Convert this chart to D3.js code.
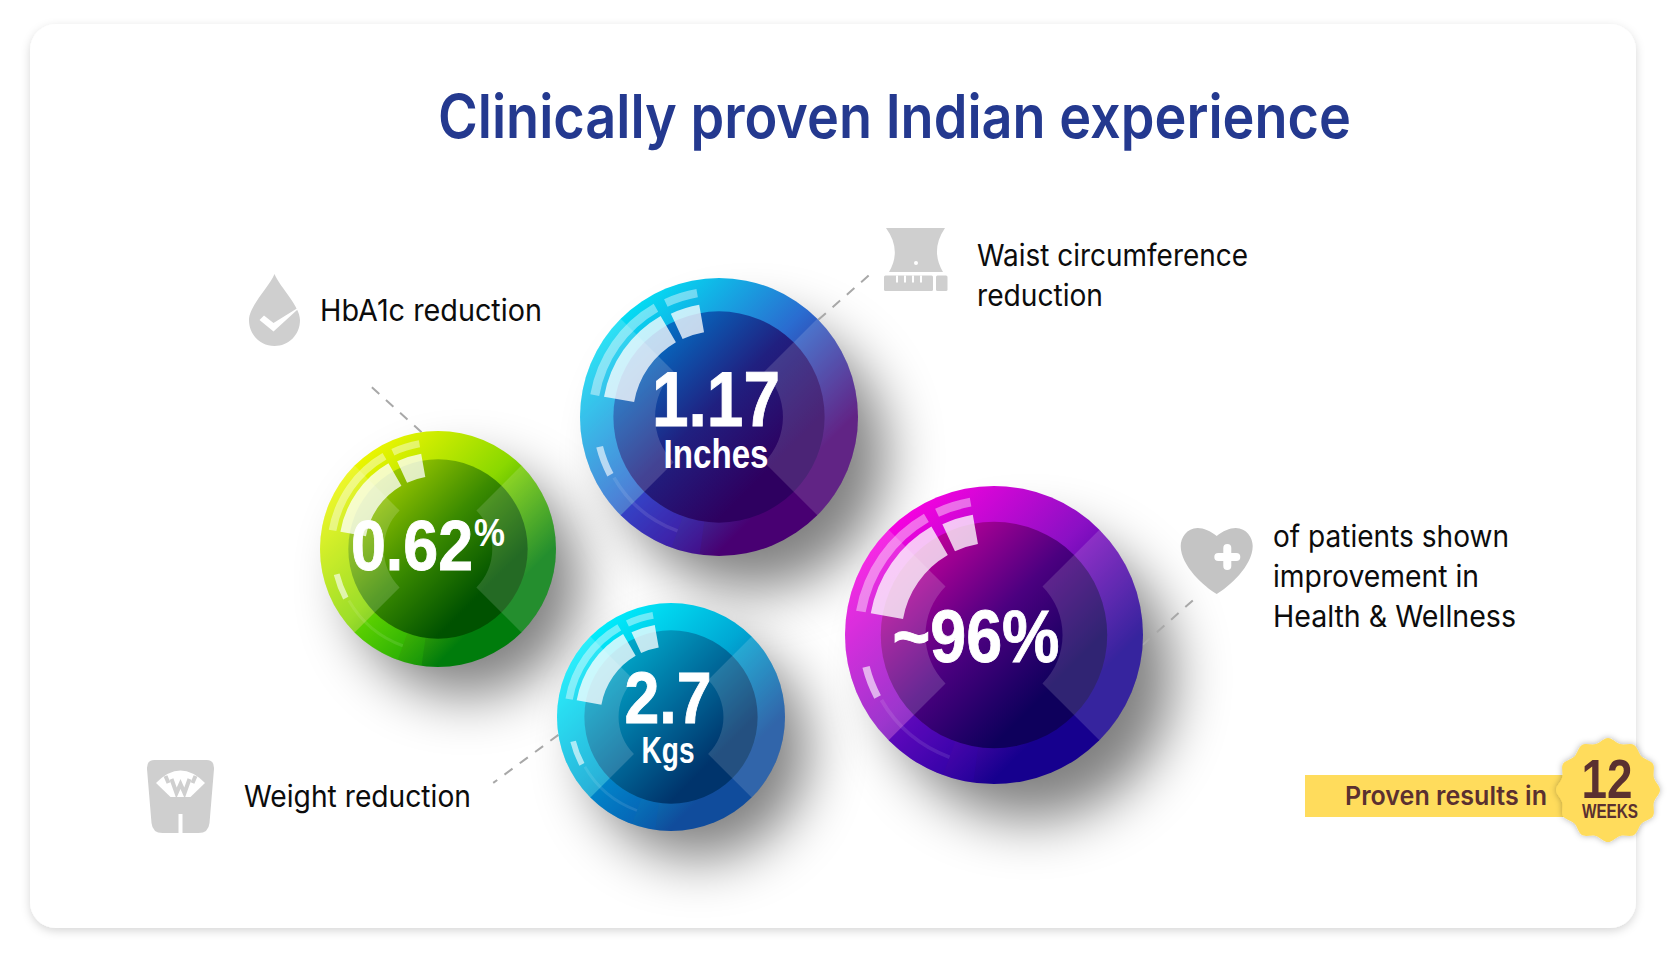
<!DOCTYPE html>
<html>
<head>
<meta charset="utf-8">
<script src="https://cdn.jsdelivr.net/npm/d3@7"></script>
<style>
  body { margin: 0; background: #fff; }
  text { font-family: Inter, "Noto Sans", sans-serif; }
  .num { font-family: "Liberation Sans Narrow", "Liberation Sans", sans-serif; font-weight: 700; fill: #fff; }
  .heavy { stroke: #fff; stroke-width: 0.9; }
</style>
</head>
<body>
<svg id="chart" width="1671" height="964"></svg>
<script>
// Chart content
const titleText = "Clinically proven Indian experience";
const categories = ["HbA1c", "Waist", "Weight", "Patients"];
const valueLabels = ["0.62", "1.17", "2.7", "~96%"];
const valueSuffix = ["%", "", "", ""];
const unitLabels = ["", "Inches", "Kgs", ""];
const descriptions = [
  ["HbA1c reduction"],
  ["Waist circumference", "reduction"],
  ["Weight reduction"],
  ["of patients shown", "improvement in", "Health & Wellness"]
];
const badgeText = "Proven results in";
const badgeNumber = "12";
const badgeUnit = "WEEKS";

// Layout of each ball comes from ordinal scales
const ballX = d3.scaleOrdinal(categories, [438, 719, 671, 994]);
const ballY = d3.scaleOrdinal(categories, [549, 417, 717, 635]);
const ballR = d3.scaleOrdinal(categories, [118, 139, 114, 149]);
const labelX = d3.scaleOrdinal(categories, [320, 977, 244, 1273]);
const labelY = d3.scaleOrdinal(categories, [321, 266, 807, 547]);
const lineWidths = d3.scaleOrdinal(categories, [[222], [271, 126], [227], [236, 206, 243]]);
const textMidX = d3.scaleOrdinal(categories, [412, 716, 668, 976]);
const valueBase = d3.scaleOrdinal(categories, [570, 426, 723, 662]);
const valueSize = d3.scaleOrdinal(categories, [70, 78, 73, 75]);
const valueWidth = d3.scaleOrdinal(categories, [122, 128, 87, 167]);
const unitBase = d3.scaleOrdinal(categories, [0, 468, 763, 0]);
const unitSize = d3.scaleOrdinal(categories, [0, 40, 37, 0]);
const unitWidth = d3.scaleOrdinal(categories, [0, 105, 53, 0]);

// Leader lines: where they leave the ball, which way they go, how long
const leadStart = d3.scaleOrdinal(categories, [-8, 45.6, -99, 93.8]);
const leadDir = d3.scaleOrdinal(categories, [-47.9, 48.7, -126.4, 48.4]);
const leadLen = d3.scaleOrdinal(categories, [70, 70, 81, 71]);

// Gradient colours, top left to bottom right
const stopOffsets = [0, 0.45, 0.82];
const outerStops = d3.scaleOrdinal(categories, [
  ["#f4f800", "#8ad800", "#007c0c"],
  ["#00e6f6", "#2a6cd0", "#480072"],
  ["#00f2ff", "#00a8d4", "#104c9c"],
  ["#ff00e2", "#8a10c4", "#16008e"]
]);
const midStops = d3.scaleOrdinal(categories, [
  ["#a8d000", "#3a8a00", "#005200"],
  ["#0078cc", "#202080", "#2e0060"],
  ["#00b0d0", "#006c9c", "#00346c"],
  ["#c8009c", "#4c0080", "#0e005c"]
]);
const facetColors = d3.scaleOrdinal(categories, ["#30d800", "#4018c8", "#0060c4", "#3000b8"]);

// Glass highlights on every ball, radii as a share of the ball radius, angles in degrees
const glassArcs = [
  { r0: 0.62, r1: 0.84, a0: -80, a1: -30, o: 0.76 },
  { r0: 0.62, r1: 0.82, a0: -25, a1: -10, o: 0.76 },
  { r0: 0.875, r1: 0.94, a0: -80, a1: -30, o: 0.42 },
  { r0: 0.875, r1: 0.935, a0: -25, a1: -10, o: 0.42 },
  { r0: 0.86, r1: 0.91, a0: -118, a1: -104, o: 0.62 },
  { r0: 0.86, r1: 0.885, a0: -160, a1: -120, o: 0.1 }
];

const rad = (d) => (d * Math.PI) / 180;
const svg = d3.select("#chart");
const defs = svg.append("defs");

// Card shadow
const cardFilter = defs.append("filter").attr("id", "cardShadow")
  .attr("x", "-5%").attr("y", "-5%").attr("width", "110%").attr("height", "110%");
cardFilter.append("feDropShadow").attr("dx", 0).attr("dy", 3).attr("stdDeviation", 5)
  .attr("flood-color", "#000").attr("flood-opacity", 0.16);

const ballBlur = defs.append("filter").attr("id", "ballBlur")
  .attr("x", "-80%").attr("y", "-80%").attr("width", "260%").attr("height", "260%");
ballBlur.append("feGaussianBlur").attr("stdDeviation", 28);

const badgeFilter = defs.append("filter").attr("id", "badgeShadow")
  .attr("x", "-20%").attr("y", "-20%").attr("width", "140%").attr("height", "140%");
badgeFilter.append("feDropShadow").attr("dx", 0).attr("dy", 0).attr("stdDeviation", 3)
  .attr("flood-color", "#000").attr("flood-opacity", 0.3);

function addGradient(id, stops) {
  const g = defs.append("linearGradient").attr("id", id)
    .attr("x1", 0.12).attr("y1", 0.12).attr("x2", 0.88).attr("y2", 0.88);
  stops.forEach((c, i) => {
    g.append("stop").attr("offset", stopOffsets[i]).attr("stop-color", c);
  });
}
categories.forEach((c) => {
  addGradient("outer" + c, outerStops(c));
  addGradient("mid" + c, midStops(c));
});

// Card
svg.append("rect").attr("x", 30).attr("y", 24).attr("width", 1606).attr("height", 904)
  .attr("rx", 26).attr("fill", "#fff").attr("filter", "url(#cardShadow)");

// Title
svg.append("text").attr("x", 438).attr("y", 138).attr("textLength", 913)
  .attr("lengthAdjust", "spacingAndGlyphs")
  .attr("font-size", 60).attr("font-weight", 600).attr("fill", "#24398f")
  .text(titleText);

// Shadows go under all the balls
svg.append("g").selectAll("circle").data(categories).join("circle")
  .attr("cx", (d) => ballX(d) + ballR(d) * 0.24)
  .attr("cy", (d) => ballY(d) + ballR(d) * 0.28)
  .attr("r", (d) => ballR(d) * 0.96)
  .attr("fill", "#000").attr("opacity", 0.5)
  .attr("filter", "url(#ballBlur)");

// Leader lines
svg.append("g").selectAll("line").data(categories).join("line")
  .attr("x1", (d) => ballX(d) + ballR(d) * Math.sin(rad(leadStart(d))))
  .attr("y1", (d) => ballY(d) - ballR(d) * Math.cos(rad(leadStart(d))))
  .attr("x2", (d) => ballX(d) + ballR(d) * Math.sin(rad(leadStart(d))) + leadLen(d) * Math.sin(rad(leadDir(d))))
  .attr("y2", (d) => ballY(d) - ballR(d) * Math.cos(rad(leadStart(d))) - leadLen(d) * Math.cos(rad(leadDir(d))))
  .attr("stroke", "#a8a8a8").attr("stroke-width", 2).attr("stroke-dasharray", "10 9");

// Balls
const balls = svg.append("g").selectAll("g").data(categories).join("g")
  .attr("transform", (d) => `translate(${ballX(d)},${ballY(d)})`);

balls.append("circle").attr("r", (d) => ballR(d)).attr("fill", (d) => `url(#outer${d})`);

// Saturated facets low on the left of the rim
[[-172, -135, 0.2], [-160, -135, 0.25]].forEach(([a0, a1, o]) => {
  balls.append("path")
    .attr("d", (d) => d3.arc()({ innerRadius: ballR(d) * 0.76, outerRadius: ballR(d), startAngle: rad(a0), endAngle: rad(a1) }))
    .attr("fill", (d) => facetColors(d)).attr("opacity", o);
});

balls.append("circle").attr("r", (d) => ballR(d) * 0.76).attr("fill", (d) => `url(#mid${d})`);

// Lighter left and right wedges of the X, cut off by the inner circle
[[45, 135, 0.14], [225, 315, 0.16]].forEach(([a0, a1, o]) => {
  balls.append("path")
    .attr("d", (d) => d3.arc()({ innerRadius: ballR(d) * 0.46, outerRadius: ballR(d), startAngle: rad(a0), endAngle: rad(a1) }))
    .attr("fill", "#fff").attr("opacity", o);
});

glassArcs.forEach((s) => {
  balls.append("path")
    .attr("d", (d) => d3.arc()({ innerRadius: ballR(d) * s.r0, outerRadius: ballR(d) * s.r1, startAngle: rad(s.a0), endAngle: rad(s.a1) }))
    .attr("fill", "#fff").attr("opacity", s.o);
});

// Numbers inside the balls
const ballText = svg.append("g").selectAll("g").data(categories).join("g");
ballText.append("text").attr("class", "num heavy")
  .attr("x", (d) => textMidX(d)).attr("y", (d) => valueBase(d))
  .attr("text-anchor", "middle")
  .attr("font-size", (d) => valueSize(d))
  .attr("textLength", (d) => valueWidth(d)).attr("lengthAdjust", "spacingAndGlyphs")
  .text((d, i) => valueLabels[i]);
ballText.filter((d, i) => valueSuffix[i] !== "").append("text")
  .attr("class", "num")
  .attr("x", (d) => textMidX(d) + valueWidth(d) / 2 + 1).attr("y", (d) => valueBase(d) - 24)
  .attr("font-size", 38).attr("textLength", 31).attr("lengthAdjust", "spacingAndGlyphs")
  .text((d) => valueSuffix[categories.indexOf(d)]);
ballText.filter((d, i) => unitLabels[i] !== "").append("text")
  .attr("class", "num")
  .attr("x", (d) => textMidX(d)).attr("y", (d) => unitBase(d))
  .attr("text-anchor", "middle")
  .attr("font-size", (d) => unitSize(d))
  .attr("textLength", (d) => unitWidth(d)).attr("lengthAdjust", "spacingAndGlyphs")
  .text((d) => unitLabels[categories.indexOf(d)]);

// Descriptions next to the balls, one text per line
categories.forEach((c, i) => {
  descriptions[i].forEach((line, j) => {
    svg.append("text")
      .attr("x", labelX(c)).attr("y", labelY(c) + j * 40)
      .attr("font-size", 30).attr("fill", "#0c0c0c")
      .attr("textLength", lineWidths(c)[j]).attr("lengthAdjust", "spacingAndGlyphs")
      .text(line);
  });
});

// Icons
const iconGray = "#cfcfcf";

// drop with tick
const drop = svg.append("g").attr("transform", "translate(274.5,274)");
drop.append("path").attr("fill", iconGray)
  .attr("d", "M0,0 C6,14 25.5,32 25.5,46 C25.5,61 14,72 0,72 C-14,72 -25.5,61 -25.5,46 C-25.5,32 -6,14 0,0 Z");
drop.append("path").attr("fill", "#fff").attr("d", "M-15,46 L-10.5,41.5 L-1,49 L28,31 L-1,57.5 Z");

// waist and tape
const waist = svg.append("g").attr("transform", "translate(916,228)");
waist.append("path").attr("fill", iconGray)
  .attr("d", "M-30,0 L29,0 Q14,22 27,44 L-27,44 Q-14,22 -30,0 Z");
waist.append("circle").attr("cy", 35).attr("r", 2).attr("fill", "#fff");
waist.append("rect").attr("x", -32).attr("y", 47.5).attr("width", 49).attr("height", 15.5).attr("rx", 1.5).attr("fill", iconGray);
waist.append("rect").attr("x", 20).attr("y", 47.5).attr("width", 11.5).attr("height", 15.5).attr("rx", 1.5).attr("fill", iconGray);
waist.selectAll("rect.tick").data([-20, -12, -4, 4]).join("rect")
  .attr("class", "tick").attr("x", (d) => d).attr("y", 47.5).attr("width", 2).attr("height", 7).attr("fill", "#fff");

// weighing scale
const scaleIcon = svg.append("g").attr("transform", "translate(180.5,760)");
scaleIcon.append("path").attr("fill", iconGray)
  .attr("d", "M-26,0 L26,0 Q34,0 33.5,9 L29,63 Q28,73 18,73 L2,73 L2,54 L-2,54 L-2,73 L-18,73 Q-28,73 -29,63 L-33.5,9 Q-34,0 -26,0 Z");
scaleIcon.append("path").attr("fill", "#fff")
  .attr("d", "M-24.5,23 Q0,-2 24.5,23 L10,37 L-10,37 Z");
scaleIcon.append("path").attr("fill", "none").attr("stroke", iconGray).attr("stroke-width", 4)
  .attr("d", "M-9,19 L-4,33 L0,24 L4,33 L9,19 M-15,16 L-12,23 M15,16 L12,23");

// heart with plus
const heart = svg.append("g").attr("transform", "translate(1216.7,536)");
heart.append("path").attr("fill", "#c4c4c4")
  .attr("d", "M0,0 C-6,-5 -13,-8 -19,-8 C-30,-8 -36,2 -36,10 C-36,30 -12,51 0,58 C12,51 36,30 36,10 C36,2 30,-8 19,-8 C13,-8 6,-5 0,0 Z");
heart.append("path").attr("fill", "none").attr("stroke", "#fff").attr("stroke-width", 8).attr("stroke-linecap", "round")
  .attr("d", "M10.6,12 L10.6,30 M1.6,21 L19.6,21");

// Yellow badge bottom right
svg.append("rect").attr("x", 1305).attr("y", 775).attr("width", 260).attr("height", 42).attr("fill", "#ffdc5c");
svg.append("text").attr("x", 1345).attr("y", 805).attr("font-size", 26).attr("font-weight", 600)
  .attr("textLength", 202).attr("lengthAdjust", "spacingAndGlyphs").attr("fill", "#5a3030").text(badgeText);
const scallop = d3.lineRadial().curve(d3.curveCatmullRomClosed)
  .angle((d) => rad(d * 15)).radius((d) => (d % 2 === 0 ? 52 : 47.5));
svg.append("path").attr("transform", "translate(1608,790)")
  .attr("d", scallop(d3.range(24))).attr("fill", "#ffdc5c").attr("filter", "url(#badgeShadow)");
svg.append("text").attr("class", "num").attr("x", 1607).attr("y", 798).attr("text-anchor", "middle")
  .attr("font-size", 56).attr("textLength", 51).attr("lengthAdjust", "spacingAndGlyphs")
  .style("fill", "#5a3030").text(badgeNumber);
svg.append("text").attr("class", "num").attr("x", 1610).attr("y", 818).attr("text-anchor", "middle")
  .attr("font-size", 20).attr("textLength", 56).attr("lengthAdjust", "spacingAndGlyphs")
  .style("fill", "#5a3030").text(badgeUnit);
</script>
</body>
</html>
